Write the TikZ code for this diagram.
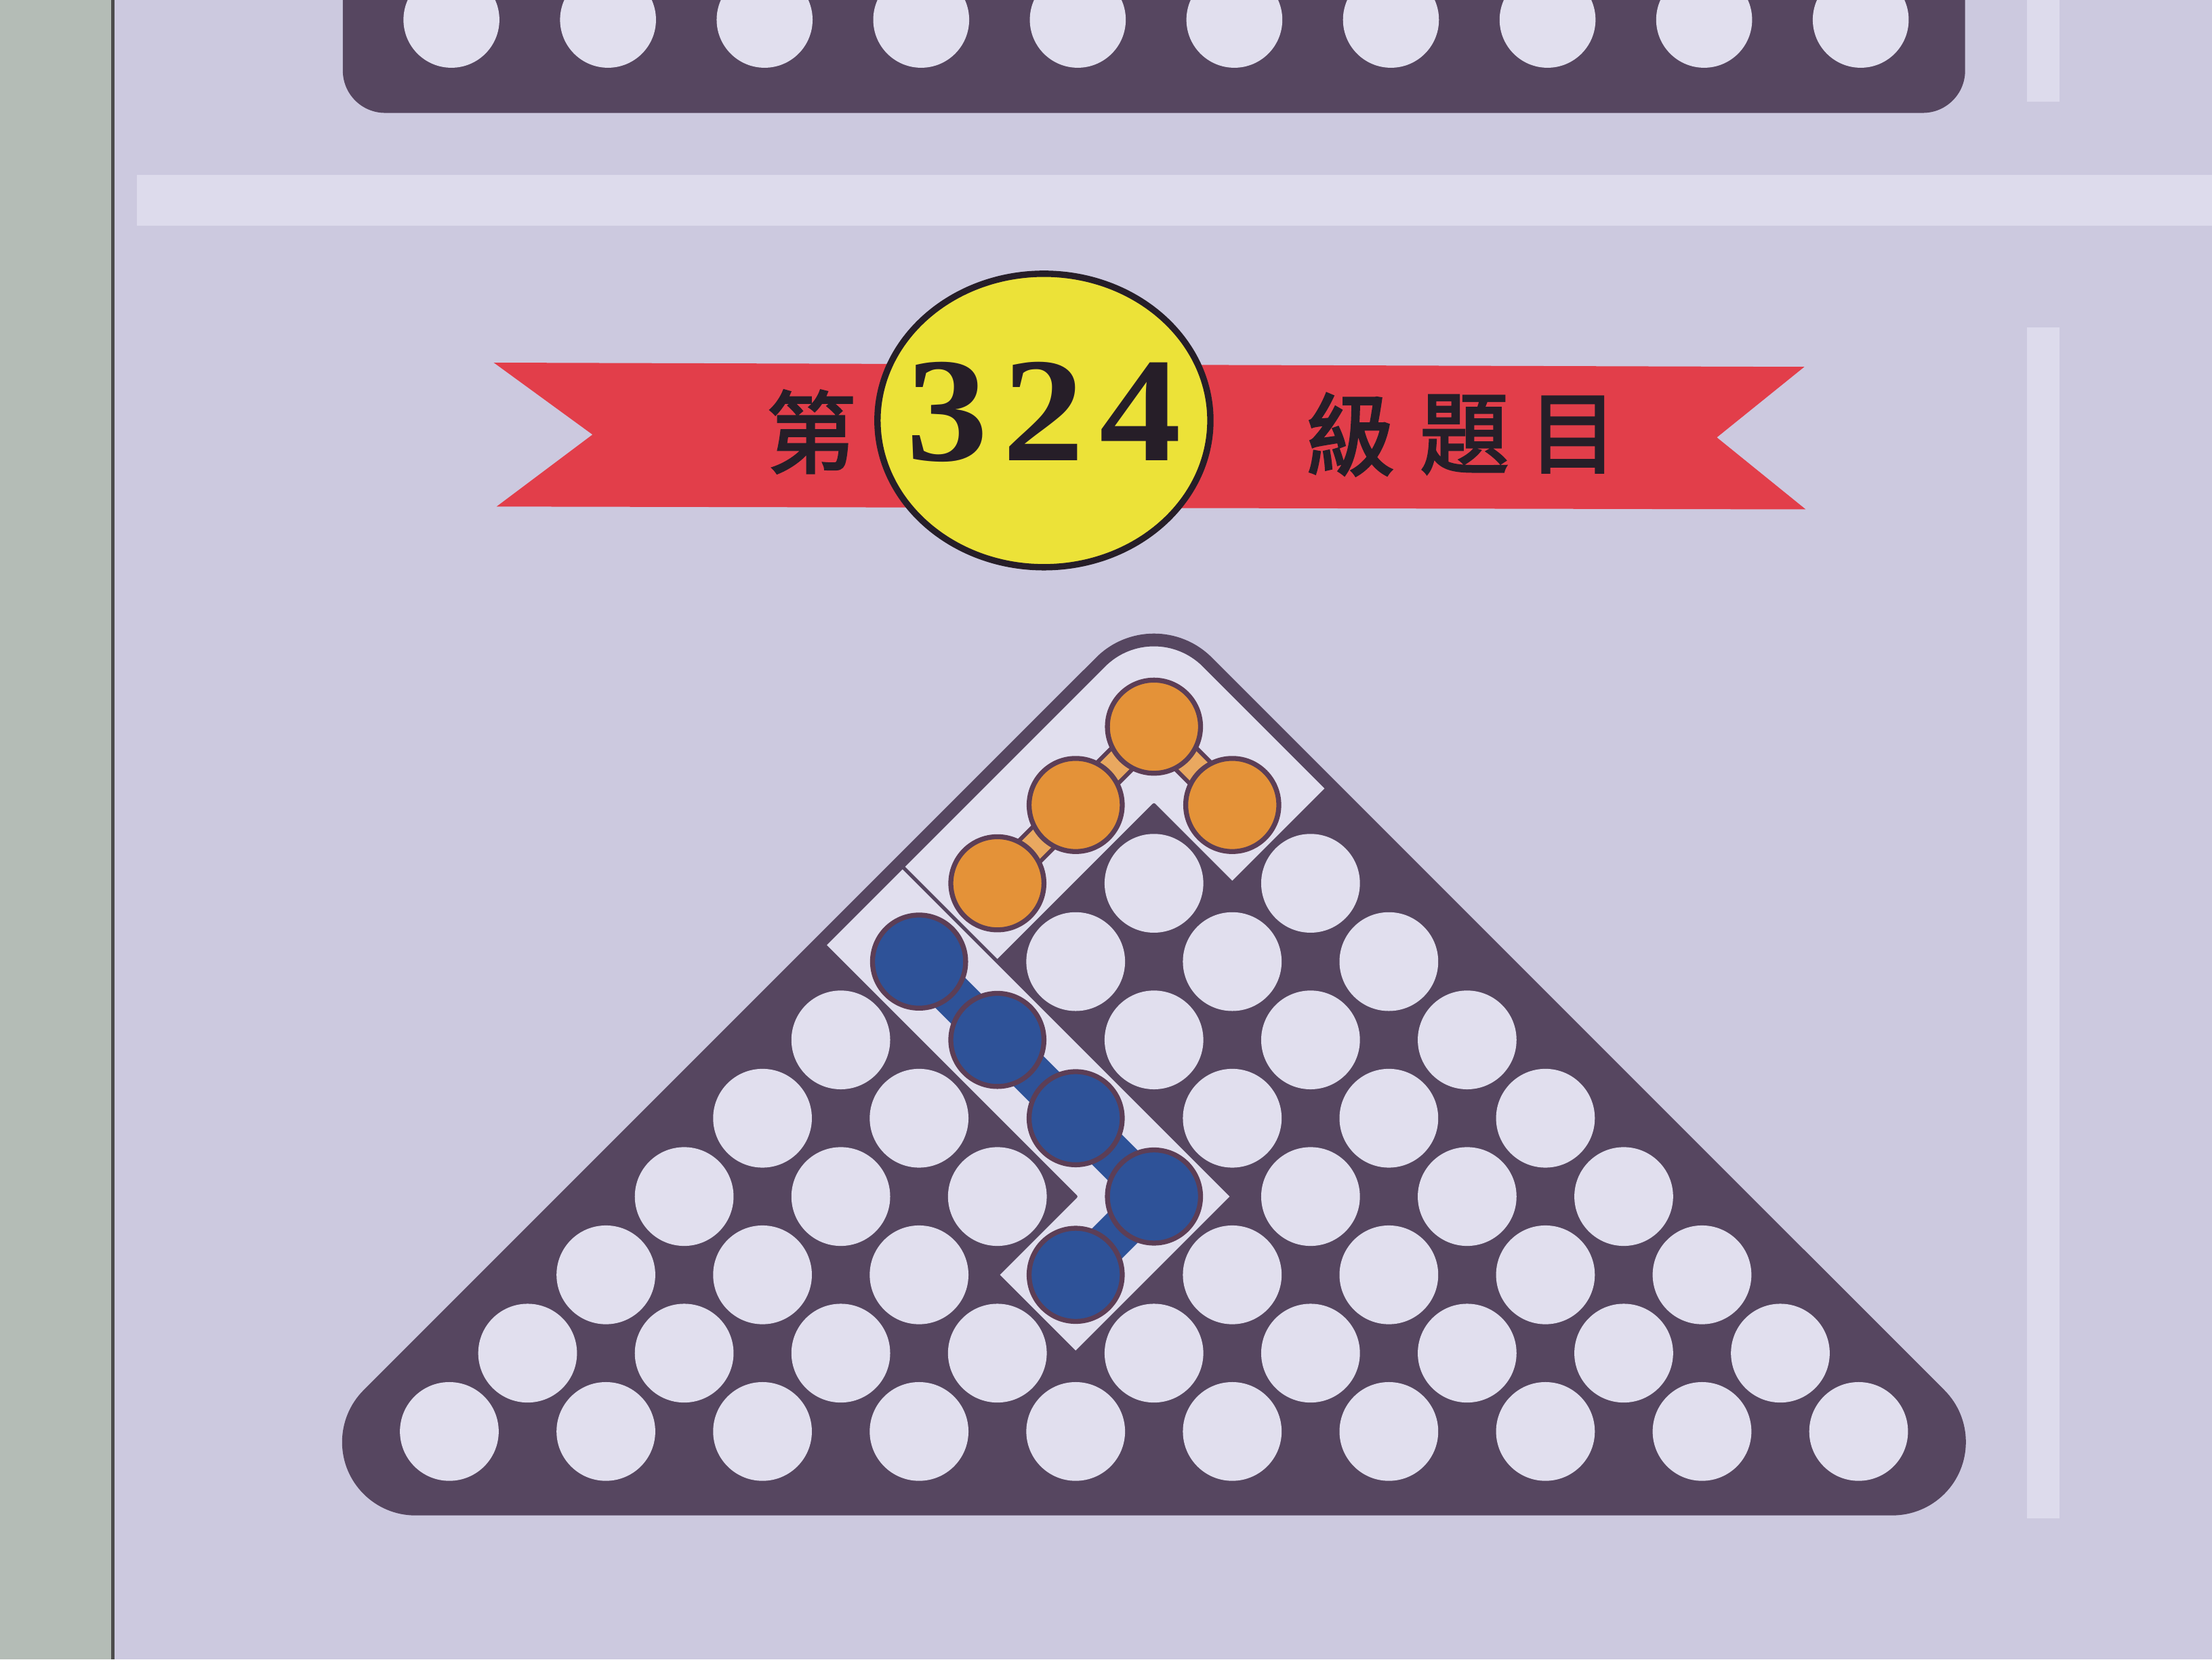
\documentclass[tikz,border=0pt]{standalone}
\usepackage{fontspec}
\setmainfont{Liberation Serif}
\newfontfamily\cjk{Noto Sans CJK TC}[FakeBold=2.5]
\usepackage{tikz}

\definecolor{panel}{RGB}{204,201,223}
\definecolor{wallc}{RGB}{180,188,182}
\definecolor{stripc}{RGB}{221,219,236}
\definecolor{boardc}{RGB}{86,70,96}
\definecolor{holec}{RGB}{225,223,238}
\definecolor{ribbonc}{RGB}{226,62,74}
\definecolor{badgec}{RGB}{236,226,56}
\definecolor{inkc}{RGB}{38,30,40}
\definecolor{orangec}{RGB}{228,146,56}
\definecolor{bluec}{RGB}{46,82,152}
\definecolor{rimc}{RGB}{92,62,86}

\begin{document}
\begin{tikzpicture}[x=0.1mm, y=-0.1mm,
    hole/.style={fill=holec},
    tile/.style={fill=holec, draw=boardc, line width=0.25mm, line join=round},
    ball/.style={draw=rimc, line width=0.35mm},
    glyph/.style={inkc, inner sep=0pt, font=\cjk\fontsize{18}{18}\selectfont}]
    \useasboundingbox (0,0) rectangle (1568,1176);

    % wall and card
    \fill[panel] (0,0) rectangle (1568,1176);
    \fill[wallc] (0,0) rectangle (80,1176);
    \draw[black!70, line width=0.25mm] (80,0) -- (80,1176);
    \fill[stripc] (97,124) rectangle (1568,160);
    \fill[stripc] (1437,0) rectangle (1460,72);
    \fill[stripc] (1437,232) rectangle (1460,1076);

    % previous puzzle, bottom row only
    \fill[boardc, rounded corners=3mm] (243,-60) rectangle (1393,80);
    \foreach \i in {0,...,9}
        \fill[hole] (320+111*\i,14) circle[radius=3.4mm];

    % banner
    \fill[ribbonc] (350,257) -- (1279,260) -- (1217,310) -- (1280,361) -- (352,359) -- (420,308) -- cycle;
    \draw[inkc, fill=badgec, line width=0.45mm] (740,298) ellipse[x radius=11.8mm, y radius=10.4mm];
    \node[inkc, inner sep=0pt, font=\bfseries\fontsize{30}{30}\selectfont\addfontfeatures{LetterSpace=9}] (num) at (740,292) {\scalebox{1.1}[1]{324}};
    \node[glyph] (di) at (575,306) {第};
    \node[glyph] (ji) at (957,308) {級};
    \node[glyph] (ti) at (1038,308) {題};
    \node[glyph] (mu) at (1115,308) {目};

    % board
    \fill[boardc] (294.5,1074) arc[start angle=270, end angle=135, radius=5.2mm]
        -- (777,466) arc[start angle=135, end angle=45, radius=5.8mm]
        -- (1378.3,985.2) arc[start angle=45, end angle=-90, radius=5.2mm] -- cycle;
    \foreach \r in {0,...,9}
        \foreach \k in {0,...,\r}
            \fill[hole] (818+111*\k-55.5*\r, 515+55.5*\r) circle[radius=3.5mm];

    % tiles
    \draw[tile] (639.75,614.25) -- (782.5,471.5) arc[start angle=135, end angle=45, radius=5.02mm]
        -- (940.75,558.75) -- (873.5,626) -- (818,570.5) -- (707,681.5) -- cycle;
    \draw[tile] (584.25,669.75) -- (762.5,848) -- (707,903.5) -- (762.5,959) -- (873.5,848) -- (639.75,614.25) -- cycle;

    % pieces, in board lattice
    \begin{scope}[shift={(818,515)}, x={(5.55mm,-5.55mm)}, y={(-5.55mm,-5.55mm)}]
        \draw[rimc, line width=2.4mm] (0,2) -- (0,0) -- (1,0);
        \draw[orangec!80!white, line width=1.8mm] (0,2) -- (0,0) -- (1,0);
        \draw[bluec, line width=3mm] (0,3) -- (3,3) -- (3,4);

        \foreach \u/\v in {0/0, 1/0, 0/1, 0/2}
            \filldraw[ball, fill=orangec] (\u,\v) circle[radius=3.3mm];
        \foreach \u/\v in {0/3, 1/3, 2/3, 3/3, 3/4}
            \filldraw[ball, fill=bluec] (\u,\v) circle[radius=3.3mm];
    \end{scope}
\end{tikzpicture}
\end{document}
